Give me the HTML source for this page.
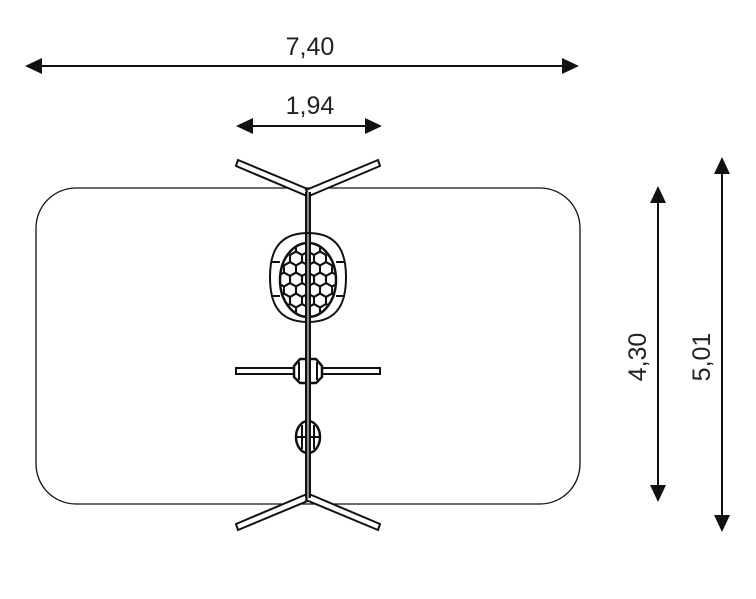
<!DOCTYPE html>
<html><head><meta charset="utf-8"><style>html,body{margin:0;padding:0;background:#fff}svg{display:block}</style></head>
<body>
<svg width="756" height="599" viewBox="0 0 756 599" xmlns="http://www.w3.org/2000/svg">
<defs>
<clipPath id="net"><ellipse cx="308" cy="280" rx="28" ry="37"/></clipPath>
<path id="h" d="M0,-7 L6.06,-3.5 L6.06,3.5 L0,7 L-6.06,3.5 L-6.06,-3.5 Z" fill="none" stroke="#111" stroke-width="2"/>
</defs>
<g font-family="Liberation Sans, sans-serif" font-size="25" fill="#222">
<text x="310" y="55" text-anchor="middle">7,40</text>
<text x="310" y="114" text-anchor="middle">1,94</text>
<text transform="translate(646,357) rotate(-90)" text-anchor="middle">4,30</text>
<text transform="translate(710,357) rotate(-90)" text-anchor="middle">5,01</text>
</g>
<g stroke="#111" stroke-width="2" fill="#111">
<line x1="36" y1="66" x2="566" y2="66"/>
<polygon points="25,66 42,58 42,74" stroke="none"/>
<polygon points="579,66 562,58 562,74" stroke="none"/>
<line x1="248" y1="126" x2="370" y2="126"/>
<polygon points="236,126 253,118 253,134" stroke="none"/>
<polygon points="382,126 365,118 365,134" stroke="none"/>
<line x1="658" y1="198" x2="658" y2="490"/>
<polygon points="658,186 650,203 666,203" stroke="none"/>
<polygon points="658,502 650,485 666,485" stroke="none"/>
<line x1="722" y1="168" x2="722" y2="520"/>
<polygon points="722,157 714,174 730,174" stroke="none"/>
<polygon points="722,532 714,515 730,515" stroke="none"/>
</g>
<rect x="36" y="188" width="544" height="316" rx="40" fill="none" stroke="#111" stroke-width="1.3"/>
<g fill="#fff" stroke="#111" stroke-width="2">
<polygon points="238,160 310,190 307,196 236,166"/>
<polygon points="378,160 306,190 309,196 380,166"/>
<polygon points="238,530 310,500 307,494 236,524"/>
<polygon points="378,530 306,500 309,494 380,524"/>
<rect x="236" y="368" width="144" height="6"/>
</g>
<rect x="305" y="192" width="6" height="306" fill="#111"/>
<line x1="308" y1="192" x2="308" y2="498" stroke="#fff" stroke-width="1"/>
<g fill="none" stroke="#111" stroke-width="2">
<path d="M308,233 C340,233 346,255 346,277 C346,300 340,322 308,322 C276,322 270,300 270,277 C270,255 276,233 308,233 Z"/>
<line x1="271" y1="262" x2="280" y2="262"/><line x1="271" y1="296" x2="280" y2="296"/>
<line x1="336" y1="262" x2="345" y2="262"/><line x1="336" y1="296" x2="345" y2="296"/>
<ellipse cx="308" cy="280" rx="28" ry="37" stroke-width="2.5"/>
<g clip-path="url(#net)">
<g transform="translate(0,0)">
<use href="#h" x="290" y="248"/><use href="#h" x="302" y="248"/><use href="#h" x="314" y="248"/><use href="#h" x="326" y="248"/>
<use href="#h" x="284" y="258.5"/><use href="#h" x="296" y="258.5"/><use href="#h" x="308" y="258.5"/><use href="#h" x="320" y="258.5"/><use href="#h" x="332" y="258.5"/>
<use href="#h" x="290" y="269"/><use href="#h" x="302" y="269"/><use href="#h" x="314" y="269"/><use href="#h" x="326" y="269"/>
<use href="#h" x="284" y="279.5"/><use href="#h" x="296" y="279.5"/><use href="#h" x="308" y="279.5"/><use href="#h" x="320" y="279.5"/><use href="#h" x="332" y="279.5"/>
<use href="#h" x="290" y="290"/><use href="#h" x="302" y="290"/><use href="#h" x="314" y="290"/><use href="#h" x="326" y="290"/>
<use href="#h" x="284" y="300.5"/><use href="#h" x="296" y="300.5"/><use href="#h" x="308" y="300.5"/><use href="#h" x="320" y="300.5"/><use href="#h" x="332" y="300.5"/>
<use href="#h" x="290" y="311"/><use href="#h" x="302" y="311"/><use href="#h" x="314" y="311"/><use href="#h" x="326" y="311"/>
</g>
</g>
</g>
<rect x="305" y="238" width="6" height="86" fill="#111"/>
<line x1="308" y1="238" x2="308" y2="324" stroke="#fff" stroke-width="1"/>
<g fill="#fff" stroke="#111" stroke-width="2.5">
<path d="M300,359 L316,359 L322,366 L322,377 L316,383 L300,383 L294,377 L294,366 Z"/>
<ellipse cx="308" cy="437" rx="12" ry="16"/>
</g>
<g stroke="#111" stroke-width="2">
<line x1="299" y1="362" x2="299" y2="380"/><line x1="317" y1="362" x2="317" y2="380"/>
<line x1="302" y1="425" x2="302" y2="449"/><line x1="314" y1="425" x2="314" y2="449"/>
<line x1="297" y1="437" x2="319" y2="437"/>
</g>
<rect x="305" y="356" width="6" height="100" fill="#111"/>
<line x1="308" y1="356" x2="308" y2="456" stroke="#fff" stroke-width="1"/>
</svg>
</body></html>
